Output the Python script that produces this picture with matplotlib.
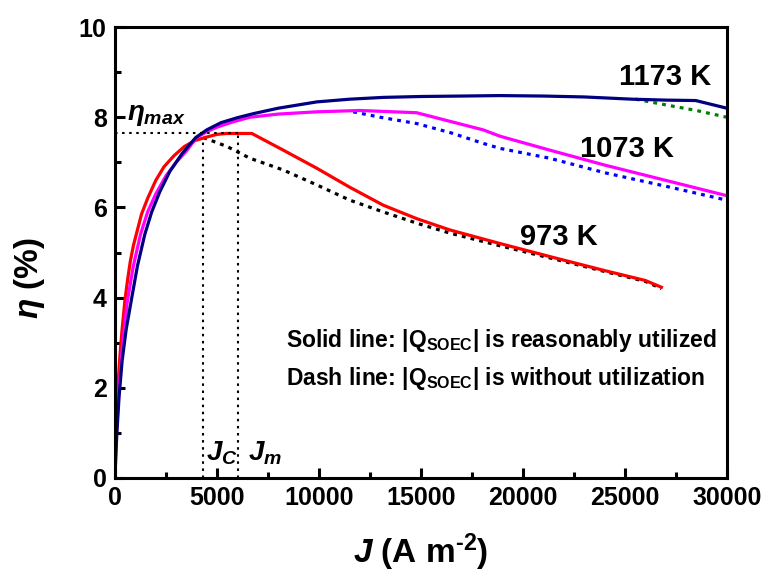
import matplotlib
matplotlib.use("Agg")
import matplotlib.pyplot as plt
from matplotlib.ticker import MultipleLocator

plt.rcParams['font.family'] = ['Liberation Sans', 'DejaVu Sans']
plt.rcParams['font.weight'] = 'bold'
plt.rcParams['axes.labelweight'] = 'bold'
plt.rcParams['mathtext.fontset'] = 'custom'
plt.rcParams['mathtext.rm'] = 'Liberation Sans:bold'
plt.rcParams['mathtext.it'] = 'Liberation Sans:italic:bold'
plt.rcParams['mathtext.bf'] = 'Liberation Sans:bold'

# 1173 K, |Q_SOEC| utilized
J_1173 = [0, 50, 100, 200, 350, 550, 800, 1100, 1460, 1800, 2200, 2690, 3300, 3960, 4500, 5200, 6000, 6790,
          8000, 9890, 11500, 13150, 15000, 17000, 18870, 21000, 23000, 25370, 27000, 28470, 30000]
eta_1173 = [0, 0.6, 1.05, 1.8, 2.6, 3.3, 3.94, 4.7, 5.4, 5.9, 6.35, 6.8, 7.2, 7.55, 7.72, 7.88, 7.99, 8.08,
            8.2, 8.34, 8.4, 8.44, 8.46, 8.47, 8.48, 8.47, 8.45, 8.40, 8.38, 8.37, 8.20]
# 1173 K, without utilization
J_1173_nu = [25530, 27050, 28500, 30000]
eta_1173_nu = [8.40, 8.27, 8.15, 8.0]

# 1073 K
J_1073 = [0, 50, 100, 200, 350, 600, 900, 1250, 1600, 2000, 2500, 3000, 3500, 4000, 4500, 5000, 5800, 6620,
          8000, 9890, 12000, 14790, 16500, 18050, 18870, 21320, 24000, 27000, 30000]
eta_1073 = [0, 0.75, 1.25, 2.0, 2.85, 3.9, 4.7, 5.4, 5.9, 6.3, 6.7, 7.0, 7.25, 7.55, 7.68, 7.78, 7.9, 8.0,
            8.07, 8.12, 8.15, 8.10, 7.9, 7.72, 7.58, 7.27, 6.94, 6.6, 6.26]
J_1073_nu = [11680, 13000, 14790, 16500, 18050, 18870, 21320, 24000, 27000, 30000]
eta_1073_nu = [8.12, 8.0, 7.86, 7.65, 7.42, 7.31, 7.09, 6.77, 6.47, 6.16]

# 973 K
J_973 = [0, 30, 80, 150, 250, 350, 490, 620, 750, 900, 1060, 1300, 1600, 2000, 2400, 2900, 3400, 3900,
         4490, 5000, 5470, 6710, 8250, 9890, 11500, 13150, 14800, 16420, 18870, 21320, 24000, 26000, 26790]
eta_973 = [0, 0.8, 1.5, 2.1, 2.75, 3.3, 3.95, 4.4, 4.8, 5.15, 5.43, 5.85, 6.2, 6.6, 6.9, 7.15, 7.35, 7.48,
           7.56, 7.62, 7.64, 7.64, 7.27, 6.87, 6.45, 6.05, 5.75, 5.50, 5.2, 4.91, 4.6, 4.38, 4.23]
J_973_nu = [4330, 5500, 6620, 8250, 9890, 11520, 13150, 14800, 16420, 18870, 21320, 24000, 26000, 26790]
eta_973_nu = [7.55, 7.35, 7.09, 6.83, 6.5, 6.16, 5.9, 5.65, 5.43, 5.15, 4.88, 4.58, 4.36, 4.2]

J_c = 4330
J_m = 6010
eta_max = 7.64
eta_c = 7.55

fig = plt.figure(figsize=(7.63, 5.73), dpi=100)
ax = fig.add_axes([0.1507, 0.1658, 0.802, 0.787])

dot = (0, (1.2, 1.6))
ax.plot(J_973_nu, eta_973_nu, color='black', lw=2.3, linestyle=dot)
ax.plot(J_1073_nu, eta_1073_nu, color='#0000ff', lw=2.3, linestyle=dot)
ax.plot(J_1173_nu, eta_1173_nu, color='#008000', lw=2.3, linestyle=dot)
ax.plot(J_973, eta_973, color='#ff0000', lw=2.3)
ax.plot(J_1073, eta_1073, color='#ff00ff', lw=2.3)
ax.plot(J_1173, eta_1173, color='#000080', lw=2.3)

# guide lines for eta_max, J_C and J_m
ref = (0, (1.2, 2.2))
ax.plot([0, J_m], [eta_max, eta_max], color='black', lw=1.5, linestyle=ref)
ax.plot([J_c, J_c], [0, eta_c], color='black', lw=1.5, linestyle=ref)
ax.plot([J_m, J_m], [0, eta_max], color='black', lw=1.5, linestyle=ref)

ax.text(600, 8.05, r'$\eta_{max}$', fontsize=20, ha='left', va='center')
ax.text(4450, 0.55, r'$J_C$', fontsize=20, ha='left', va='center')
ax.text(6500, 0.55, r'$J_m$', fontsize=20, ha='left', va='center')

ax.text(26960, 8.89, '1173 K', fontsize=21, ha='center', va='center')
ax.text(25080, 7.29, '1073 K', fontsize=21, ha='center', va='center')
ax.text(21760, 5.34, '973 K', fontsize=21, ha='center', va='center')

ax.text(8400, 3.05, r'Solid line: |Q$_{\mathrm{SOEC}}$| is reasonably utilized', fontsize=16.5, ha='left', va='center')
ax.text(8400, 2.2, r'Dash line: |Q$_{\mathrm{SOEC}}$| is without utilization', fontsize=16.5, ha='left', va='center')

ax.set_xlim(0, 30000)
ax.set_ylim(0, 10)
ax.xaxis.set_major_locator(MultipleLocator(5000))
ax.xaxis.set_minor_locator(MultipleLocator(2500))
ax.yaxis.set_major_locator(MultipleLocator(2))
ax.yaxis.set_minor_locator(MultipleLocator(1))
ax.tick_params(which='major', direction='in', length=7, width=2.2, labelsize=18, pad=6)
ax.tick_params(which='minor', direction='in', length=4, width=2.2)
for lab in ax.get_xticklabels() + ax.get_yticklabels():
    lab.set_fontweight('bold')
for sp in ax.spines.values():
    sp.set_linewidth(2.2)

ax.set_xlabel(r'$J$ (A m$^{\text{-2}}$)', fontsize=24, fontweight='bold', labelpad=15)
ax.set_ylabel(r'$\eta$ (%)', fontsize=24, fontweight='bold')
ax.yaxis.set_label_coords(-0.111, 0.443)

fig.savefig('out.png', dpi=100)
